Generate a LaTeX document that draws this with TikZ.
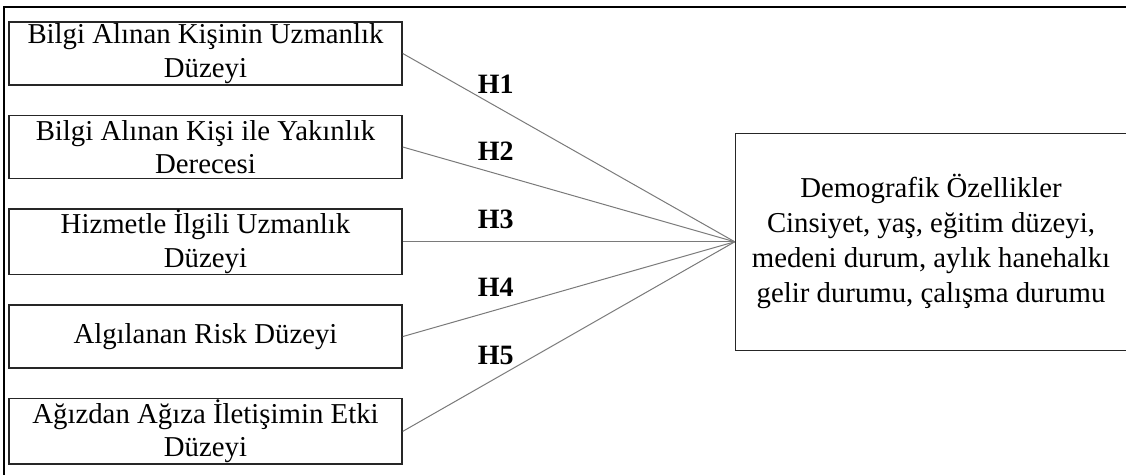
\documentclass[tikz,border=0pt]{standalone}
\usepackage{fontspec}
\setmainfont{Liberation Serif}
\usepackage{tikz}
\usetikzlibrary{positioning}
\definecolor{boxedge}{HTML}{262626}
\definecolor{linkgray}{HTML}{7A7A7A}
\tikzset{
  varbox/.style ={draw=boxedge,line width=0.75pt,minimum width=196.5pt,
                  minimum height=31.5pt,inner sep=0.5pt,align=center,
                  font=\fontsize{14.4}{16.8}\selectfont},
  demobox/.style={draw=boxedge,line width=0.75pt,minimum width=195.5pt,
                  minimum height=108.5pt,inner sep=2pt,align=center,
                  font=\fontsize{14.4}{17.5}\selectfont},
  hyp/.style    ={draw=linkgray,line width=0.5pt},
  hlab/.style   ={font=\fontsize{14}{16}\selectfont\bfseries}
}
\begin{document}
\begin{tikzpicture}[x=0.5pt,y=-0.5pt]
  \useasboundingbox (0,0) rectangle (1126,475);
  % frame
  \draw[line width=1pt,black] (4,475) -- (4,7) -- (1126,7);
  % independent variables
  \node[varbox] (v1) at (205.5,53.5) {Bilgi Alınan Kişinin Uzmanlık\\Düzeyi};
  \node[varbox,below=14.5pt of v1] (v2) {Bilgi Alınan Kişi ile Yakınlık\\Derecesi};
  \node[varbox,below=14.5pt of v2] (v3) {Hizmetle İlgili Uzmanlık\\Düzeyi};
  \node[varbox,below=14.5pt of v3] (v4) {Algılanan Risk Düzeyi};
  \node[varbox,below=14.5pt of v4] (v5) {Ağızdan Ağıza İletişimin Etki\\Düzeyi};
  % demographics
  \node[demobox,right=166pt of v3] (demo) {Demografik Özellikler\\Cinsiyet, yaş, eğitim düzeyi,\\medeni durum, aylık hanehalkı\\gelir durumu, çalışma durumu};
  % hypotheses
  \foreach \i in {1,...,5}
    \draw[hyp] (v\i.east) -- node[pos=0.28,above=3pt,hlab] {H\i} (demo.west);
\end{tikzpicture}
\end{document}
